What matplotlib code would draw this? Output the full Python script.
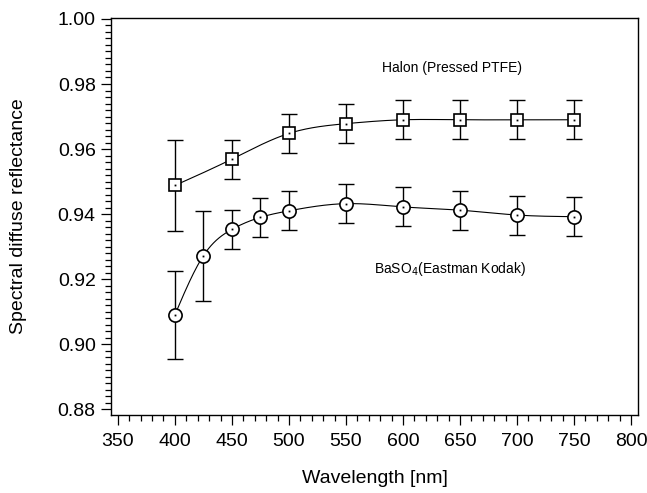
import numpy as np
import matplotlib

matplotlib.use("Agg")
import matplotlib.pyplot as plt
from matplotlib.ticker import MultipleLocator, FormatStrFormatter

plt.rcParams["font.family"] = ["Liberation Sans", "DejaVu Sans"]

# Halon (pressed PTFE)
halon_wl = [400, 450, 500, 550, 600, 650, 700, 750]
halon_r = [0.9488, 0.9569, 0.9648, 0.9678, 0.9690, 0.9690, 0.9690, 0.9690]
halon_err = [0.0139, 0.0060, 0.0060, 0.0060, 0.0060, 0.0060, 0.0060, 0.0060]

# BaSO4 (Eastman Kodak)
baso4_wl = [400, 425, 450, 475, 500, 550, 600, 650, 700, 750]
baso4_r = [0.9090, 0.9272, 0.9353, 0.9390, 0.9410, 0.9432, 0.9422, 0.9412, 0.9397, 0.9392]
baso4_err = [0.0135, 0.0138, 0.0060, 0.0060, 0.0060, 0.0060, 0.0060, 0.0060, 0.0060, 0.0060]


def _spline(xs, ys, n=300):
    """natural cubic spline through the points, just for drawing the connecting curve"""
    x = np.asarray(xs, float)
    y = np.asarray(ys, float)
    k = len(x)
    h = np.diff(x)
    A = np.zeros((k, k))
    b = np.zeros(k)
    A[0, 0] = A[-1, -1] = 1.0
    for i in range(1, k - 1):
        A[i, i - 1] = h[i - 1]
        A[i, i] = 2 * (h[i - 1] + h[i])
        A[i, i + 1] = h[i]
        b[i] = 6 * ((y[i + 1] - y[i]) / h[i] - (y[i] - y[i - 1]) / h[i - 1])
    m = np.linalg.solve(A, b)
    xx = np.linspace(x[0], x[-1], n)
    idx = np.clip(np.searchsorted(x, xx) - 1, 0, k - 2)
    x0, x1 = x[idx], x[idx + 1]
    hh = x1 - x0
    t0, t1 = x1 - xx, xx - x0
    yy = (m[idx] * t0 ** 3 + m[idx + 1] * t1 ** 3) / (6 * hh) \
        + (y[idx] / hh - m[idx] * hh / 6) * t0 + (y[idx + 1] / hh - m[idx + 1] * hh / 6) * t1
    return xx, yy


fig = plt.figure(figsize=(6.47, 4.93), dpi=100)
ax = fig.add_axes([0.1716, 0.1582, 0.8144, 0.8053])

for wl, r, err, mk, ms in [(halon_wl, halon_r, halon_err, "s", 9.3),
                           (baso4_wl, baso4_r, baso4_err, "o", 9.5)]:
    sx, sy = _spline(wl, r)
    ax.plot(sx, sy, color="black", linewidth=0.8, zorder=2)
    ax.errorbar(wl, r, yerr=err, fmt="none", ecolor="black", elinewidth=1.0,
                capsize=6, capthick=1.0, zorder=3)
    ax.plot(wl, r, linestyle="none", marker=mk, markersize=ms, markerfacecolor="white",
            markeredgecolor="black", markeredgewidth=1.2, zorder=4)
    ax.plot(wl, r, linestyle="none", marker="s", markersize=1.3, color="black",
            markeredgewidth=0, zorder=5)

ax.text(643, 0.9848, "Halon (Pressed PTFE)", fontsize=10, ha="center", va="center")
ax.text(641, 0.9231, "BaSO$_4$(Eastman Kodak)", fontsize=10, ha="center", va="center")

ax.set_xlim(344, 806)
ax.set_ylim(0.8782, 1.0003)
ax.xaxis.set_major_locator(MultipleLocator(50))
ax.xaxis.set_minor_locator(MultipleLocator(10))
ax.yaxis.set_major_locator(MultipleLocator(0.02))
ax.yaxis.set_minor_locator(MultipleLocator(0.002))
ax.yaxis.set_major_formatter(FormatStrFormatter("%.2f"))
ax.tick_params(which="both", direction="out", top=False, right=False, labelsize=14,
               width=0.9, color="black")
ax.tick_params(which="major", length=7)
ax.tick_params(axis="x", which="major", pad=6)
ax.tick_params(axis="y", which="major", pad=4)
ax.tick_params(which="minor", length=4)

for s in ax.spines.values():
    s.set_linewidth(1.0)

ax.set_xlabel("Wavelength [nm]", fontsize=14, labelpad=14)
ax.set_ylabel("Spectral diffuse reflectance", fontsize=14, labelpad=22)

fig.savefig("out.png", dpi=100)
plt.close(fig)
